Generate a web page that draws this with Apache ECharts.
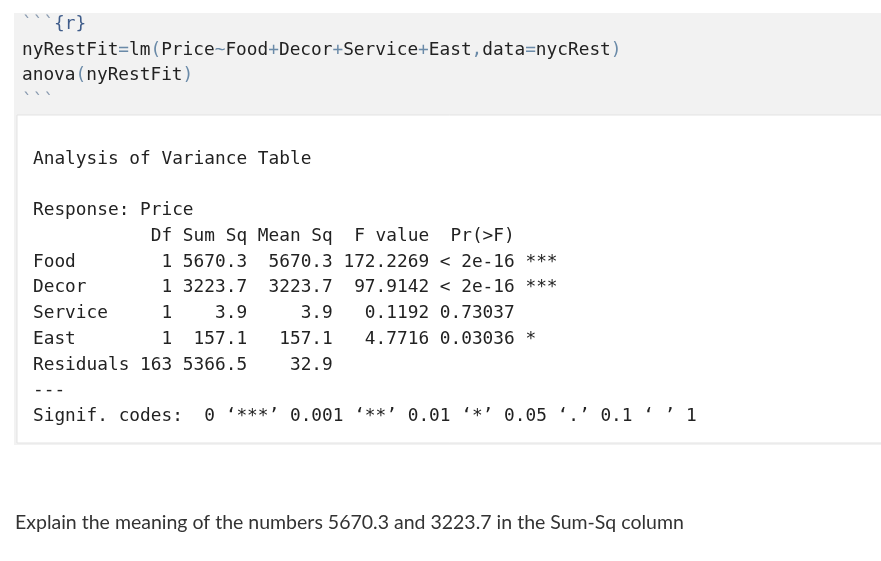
<!DOCTYPE html>
<html>
<head>
<meta charset="utf-8">
<script src="https://cdn.jsdelivr.net/npm/echarts@6/dist/echarts.min.js"></script>
<style>html,body{margin:0;padding:0;background:#fff}#main{width:881px;height:561px}</style>
</head>
<body>
<div id="main"></div>
<script>
// code chunk
const codeLines = ['nyRestFit=lm(Price~Food+Decor+Service+East,data=nycRest)', 'anova(nyRestFit)'];

// anova table
const rowNames = ['Food', 'Decor', 'Service', 'East', 'Residuals'];
const dfValues = ['1', '1', '1', '1', '163'];
const sumSq = ['5670.3', '3223.7', '3.9', '157.1', '5366.5'];
const meanSq = ['5670.3', '3223.7', '3.9', '157.1', '32.9'];
const fValues = ['172.2269', '97.9142', '0.1192', '4.7716', ''];
const prValues = ['< 2e-16', '< 2e-16', '0.73037', '0.03036', ''];
const stars = ['***', '***', '', '*', ''];

const question = 'Explain the meaning of the numbers 5670.3 and 3223.7 in the Sum-Sq column';

const mono = '"DejaVu Sans Mono", monospace';
const fs = 17.8;

function richCode(s) {
    return s.replace(/[()~+=,]/g, c => '{p|' + c + '}');
}

const graphic = [];
graphic.push({ type: 'rect', shape: { x: 14, y: 13, width: 867, height: 432 }, style: { fill: '#f2f2f2' }, silent: true });
graphic.push({ type: 'rect', shape: { x: 17, y: 115, width: 866, height: 328 }, style: { fill: '#fff', stroke: '#e3e3e3', lineWidth: 1 }, silent: true });

// fences
graphic.push({ type: 'text', x: 22, y: 24, style: { text: '```', font: fs + 'px ' + mono, fill: '#8a9bb0', verticalAlign: 'middle' } });
graphic.push({ type: 'text', x: 54, y: 24, style: { text: '{r}', font: fs + 'px ' + mono, fill: '#3f5c8a', verticalAlign: 'middle' } });
graphic.push({ type: 'text', x: 22, y: 101, style: { text: '```', font: fs + 'px ' + mono, fill: '#8a9bb0', verticalAlign: 'middle' } });

codeLines.forEach((line, i) => {
    graphic.push({
        type: 'text', x: 22, y: [50, 75][i],
        style: {
            text: richCode(line), font: fs + 'px ' + mono, fill: '#222', verticalAlign: 'middle',
            rich: { p: { fill: '#6a8aa8', font: fs + 'px ' + mono } }
        }
    });
});

const out = ['Analysis of Variance Table', '', 'Response: Price'];
out.push(' '.repeat(10) + ' Df Sum Sq Mean Sq  F value  Pr(>F)');
rowNames.forEach((n, i) => {
    out.push(n.padEnd(10) + dfValues[i].padStart(3) + ' ' + sumSq[i].padStart(6) + ' ' +
        meanSq[i].padStart(7) + ' ' + fValues[i].padStart(8) + ' ' + prValues[i].padStart(7) + ' ' + stars[i]);
});
out.push('---');
out.push("Signif. codes:  0 \u2018***\u2019 0.001 \u2018**\u2019 0.01 \u2018*\u2019 0.05 \u2018.\u2019 0.1 \u2018 \u2019 1");

out.forEach((line, i) => {
    if (!line) return;
    graphic.push({
        type: 'text', x: 33, y: 159 + i * 25.75,
        style: { text: line, font: fs + 'px ' + mono, fill: '#222', verticalAlign: 'middle' }
    });
});

graphic.push({
    type: 'text', x: 15, y: 523,
    style: { text: question, font: '19.5px Lato, sans-serif', fill: '#333', verticalAlign: 'middle' }
});

const chart = echarts.init(document.getElementById('main'));
chart.setOption({ animation: false, graphic: graphic });
</script>
</body>
</html>
